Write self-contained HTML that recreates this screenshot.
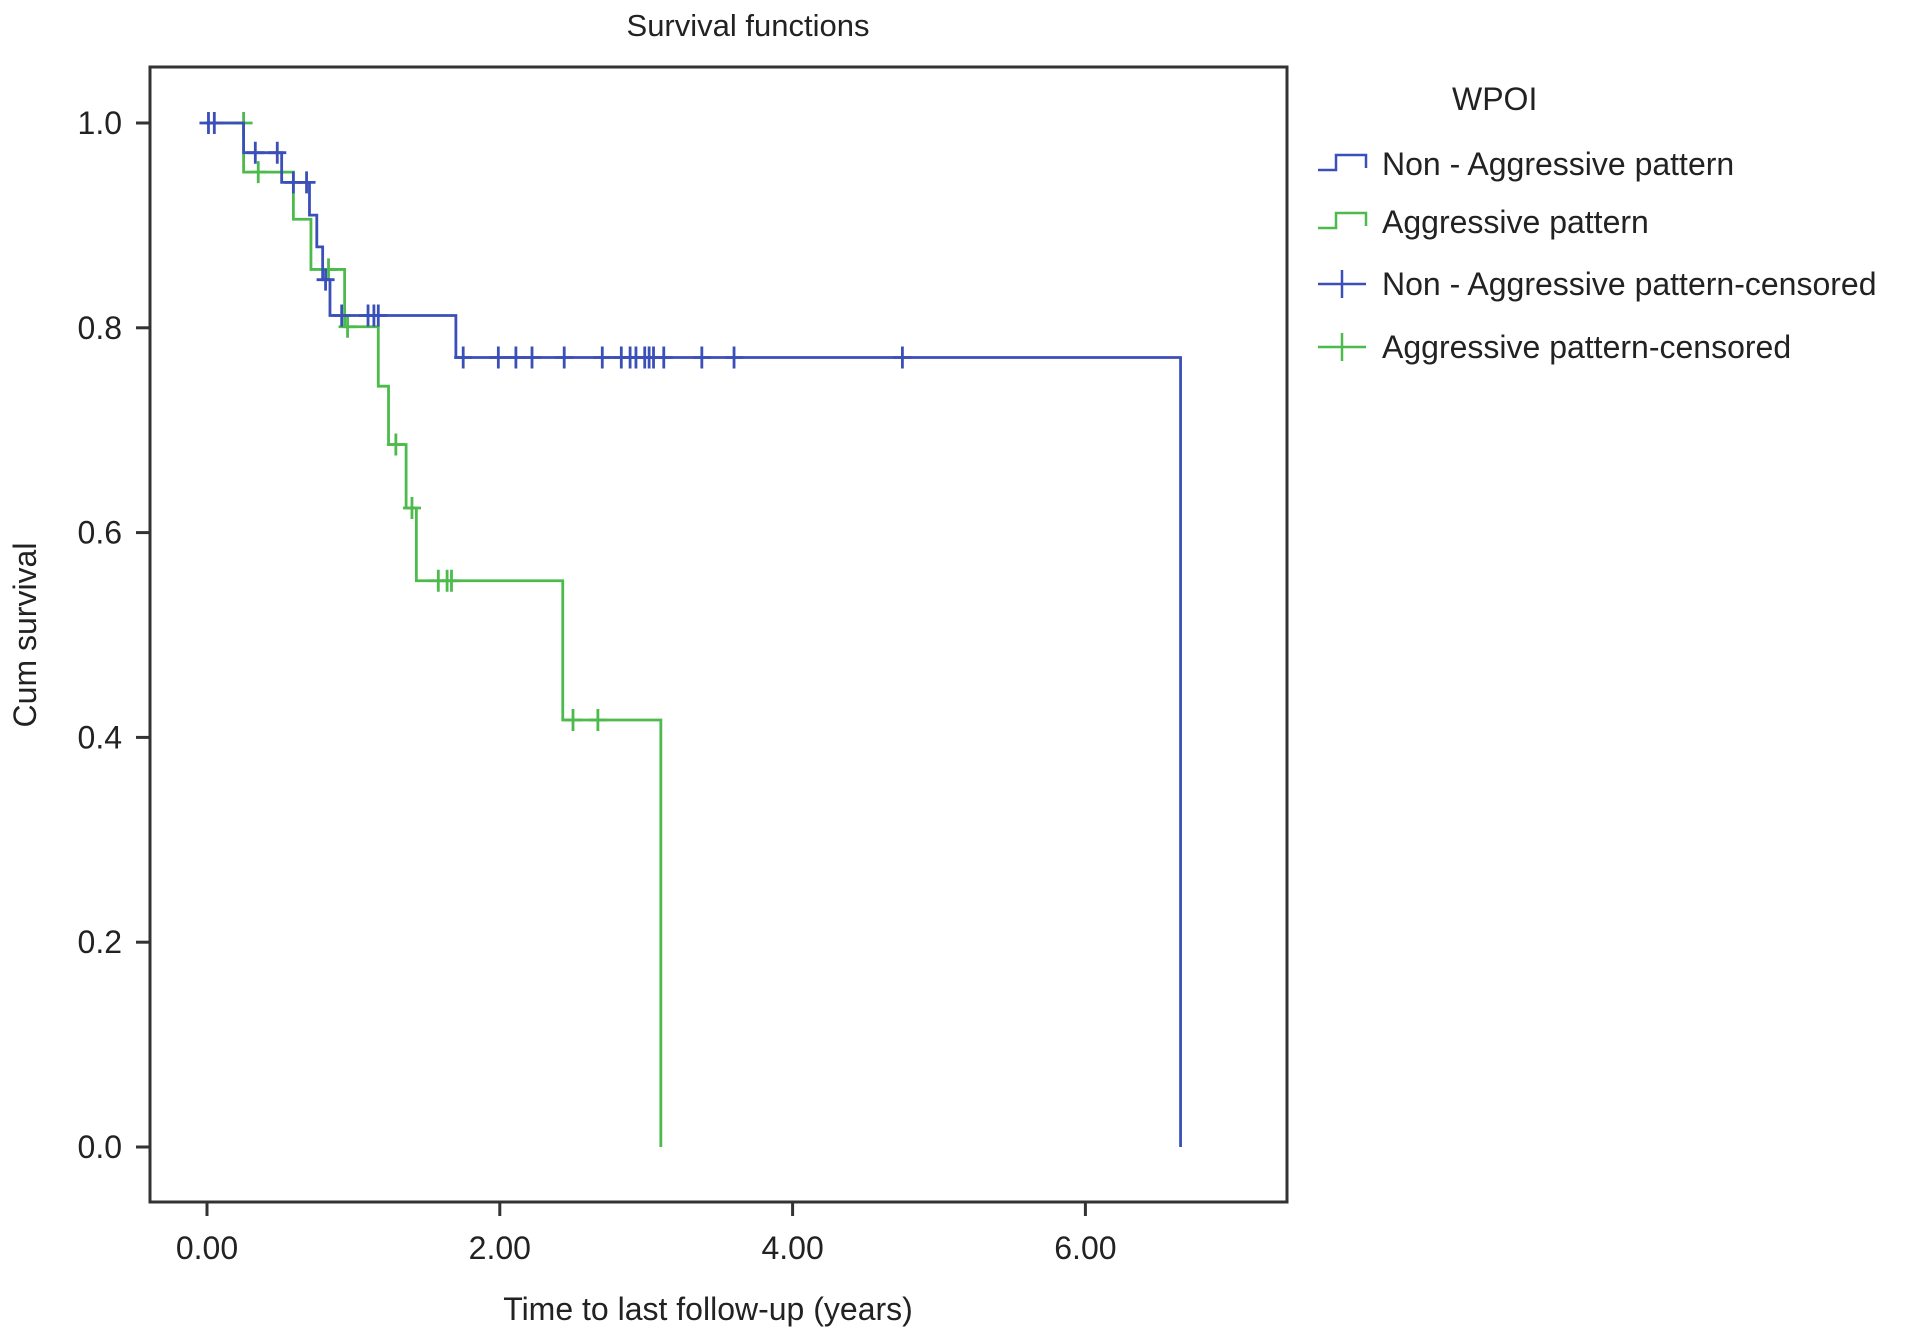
<!DOCTYPE html>
<html><head><meta charset="utf-8"><style>
body{margin:0;background:#fff;}
svg{display:block;font-family:"Liberation Sans",sans-serif;}
</style></head><body>
<svg id="chart" width="1913" height="1340" viewBox="0 0 1913 1340">
<text x="748" y="36" font-size="31" text-anchor="middle" fill="#222">Survival functions</text>
<rect x="150" y="67" width="1137" height="1135" fill="none" stroke="#333" stroke-width="3"/>
<g id="axes"></g>
<g id="series"></g>
<text x="708" y="1320" font-size="32" text-anchor="middle" fill="#222">Time to last follow-up (years)</text>
<text transform="translate(36,635) rotate(-90)" font-size="32" text-anchor="middle" fill="#222">Cum survival</text>
<g>
<text x="1452" y="110" font-size="32" fill="#222">WPOI</text>
<path d="M1318 170 H1336 V155 H1366 V168" fill="none" stroke="#3a4fb8" stroke-width="2.5"/>
<text x="1382" y="175" font-size="32" fill="#222">Non - Aggressive pattern</text>
<path d="M1318 228 H1336 V213 H1366 V226" fill="none" stroke="#4cbb4c" stroke-width="2.5"/>
<text x="1382" y="233" font-size="32" fill="#222">Aggressive pattern</text>
<path d="M1318 284 H1366 M1342 270 V298" stroke="#3a4fb8" stroke-width="2.5"/>
<text x="1382" y="295" font-size="32" fill="#222">Non - Aggressive pattern-censored</text>
<path d="M1318 347 H1366 M1342 333 V361" stroke="#4cbb4c" stroke-width="2.5"/>
<text x="1382" y="358" font-size="32" fill="#222">Aggressive pattern-censored</text>
</g>
</svg>
<script>
const xTicks=[0,2,4,6];
const xTickLabels=["0.00","2.00","4.00","6.00"];
const yTicks=[0,0.2,0.4,0.6,0.8,1.0];
const yTickLabels=["0.0","0.2","0.4","0.6","0.8","1.0"];
const nonAggTimes=[0.25,0.51,0.70,0.75,0.79,0.84,1.70,6.65];
const nonAggSurv=[0.971,0.942,0.910,0.879,0.847,0.812,0.771,0.0];
const nonAggCensT=[0.01,0.05,0.33,0.48,0.59,0.68,0.81,0.92,1.10,1.14,1.17,1.75,1.99,2.11,2.22,2.44,2.70,2.83,2.89,2.93,2.99,3.02,3.05,3.12,3.38,3.60,4.75];
const aggTimes=[0.25,0.59,0.71,0.94,1.17,1.24,1.36,1.43,2.43,3.10];
const aggSurv=[0.952,0.906,0.857,0.801,0.743,0.686,0.624,0.553,0.417,0.0];
const aggCensT=[0.25,0.35,0.83,0.96,1.29,1.40,1.58,1.64,1.67,2.50,2.67];
const NS="http://www.w3.org/2000/svg";
const X=t=>207+t*146.4;
const Y=s=>1147-s*1024;
const axes=document.getElementById('axes'),series=document.getElementById('series');
function mk(tag,attrs,parent){const e=document.createElementNS(NS,tag);for(const k in attrs)e.setAttribute(k,attrs[k]);parent.appendChild(e);return e;}
xTicks.forEach((v,i)=>{
 const l=mk('line',{x1:X(v),x2:X(v),y1:1202,y2:1216,stroke:'#333','stroke-width':3},axes);
 
 
 const t=mk('text',{x:X(v),y:1259,'font-size':32,'text-anchor':'middle',fill:'#222'},axes);
 t.textContent=xTickLabels[i];
 
 
});
yTicks.forEach((v,i)=>{
 const l=mk('line',{x1:136,x2:150,y1:Y(v),y2:Y(v),stroke:'#333','stroke-width':3},axes);
 
 
 const t=mk('text',{x:122,y:Y(v)+11,'font-size':32,'text-anchor':'end',fill:'#222'},axes);
 t.textContent=yTickLabels[i];
 
 
});
function survAt(times,surv,t){let s=1;for(let i=0;i<times.length;i++){if(times[i]<=t)s=surv[i];}return s;}
function drawSeries(times,surv,cens,color,name){
 let d='M'+X(0)+' '+Y(1);
 times.forEach((t,i)=>{d+=' H'+X(t)+' V'+Y(surv[i]);});
 const p=mk('path',{d:d,fill:'none',stroke:color,'stroke-width':2.8},series);
 
 
 cens.forEach(t=>{
  let sv=survAt(times,surv,t-1e-9);
  const m=mk('path',{d:'M'+(X(t)-9)+' '+Y(sv)+' H'+(X(t)+9)+' M'+X(t)+' '+(Y(sv)-11)+' V'+(Y(sv)+11),stroke:color,'stroke-width':2.8},series);
  
  
 });
}
drawSeries(aggTimes,aggSurv,aggCensT,'#4cbb4c','aggressive');
drawSeries(nonAggTimes,nonAggSurv,nonAggCensT,'#3a4fb8','non-aggressive');
</script>
</body></html>
